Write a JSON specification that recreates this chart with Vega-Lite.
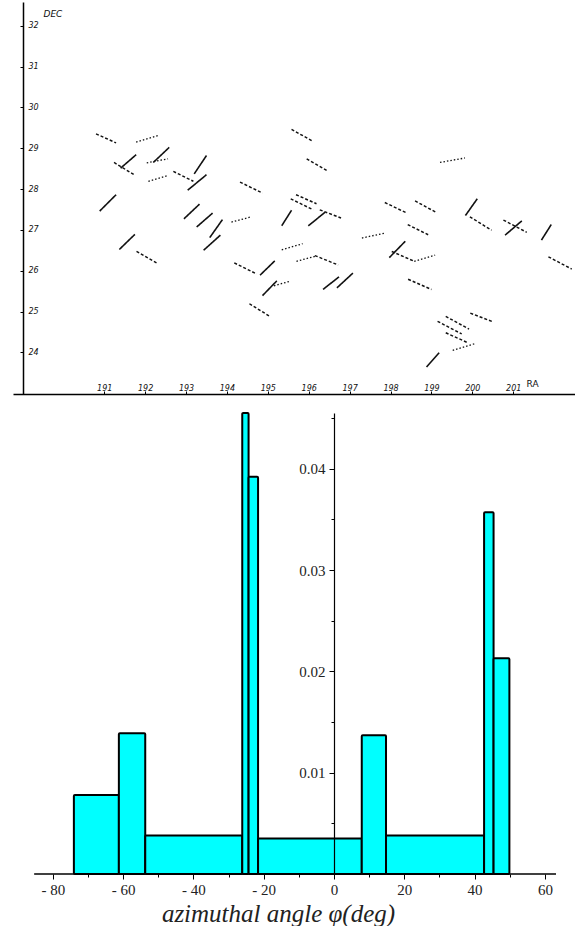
{
  "$schema": "https://vega.github.io/schema/vega-lite/v6.json",
  "padding": {"left": 13, "top": 2, "right": 0, "bottom": 0},
  "autosize": {"type": "pad"},
  "spacing": 17,
  "background": "white",
  "config": {"view": {"stroke": null}},
  "vconcat": [
    {
      "width": 562,
      "height": 392,
      "data": {"values": [
        {"type":"dashed","ra1":190.80,"dec1":29.35,"ra2":191.29,"dec2":29.13},
        {"type":"dotted","ra1":191.78,"dec1":29.15,"ra2":192.32,"dec2":29.31},
        {"type":"solid","ra1":191.40,"dec1":28.51,"ra2":191.78,"dec2":28.84},
        {"type":"dashed","ra1":191.24,"dec1":28.65,"ra2":191.73,"dec2":28.35},
        {"type":"solid","ra1":192.20,"dec1":28.65,"ra2":192.59,"dec2":29.02},
        {"type":"dotted","ra1":192.04,"dec1":28.64,"ra2":192.56,"dec2":28.74},
        {"type":"dotted","ra1":192.08,"dec1":28.19,"ra2":192.56,"dec2":28.33},
        {"type":"solid","ra1":193.20,"dec1":28.37,"ra2":193.50,"dec2":28.82},
        {"type":"dashed","ra1":192.69,"dec1":28.43,"ra2":193.18,"dec2":28.19},
        {"type":"solid","ra1":193.04,"dec1":27.97,"ra2":193.50,"dec2":28.35},
        {"type":"dashed","ra1":194.32,"dec1":28.17,"ra2":194.87,"dec2":27.90},
        {"type":"solid","ra1":190.89,"dec1":27.46,"ra2":191.29,"dec2":27.86},
        {"type":"solid","ra1":192.95,"dec1":27.27,"ra2":193.33,"dec2":27.63},
        {"type":"solid","ra1":193.26,"dec1":27.07,"ra2":193.65,"dec2":27.41},
        {"type":"solid","ra1":193.58,"dec1":26.81,"ra2":193.89,"dec2":27.25},
        {"type":"dotted","ra1":194.11,"dec1":27.19,"ra2":194.60,"dec2":27.32},
        {"type":"solid","ra1":191.37,"dec1":26.52,"ra2":191.75,"dec2":26.89},
        {"type":"solid","ra1":193.43,"dec1":26.50,"ra2":193.84,"dec2":26.87},
        {"type":"dashed","ra1":195.58,"dec1":29.46,"ra2":196.10,"dec2":29.17},
        {"type":"dashed","ra1":195.95,"dec1":28.74,"ra2":196.47,"dec2":28.44},
        {"type":"dashed","ra1":195.69,"dec1":27.86,"ra2":196.19,"dec2":27.64},
        {"type":"dashed","ra1":195.56,"dec1":27.76,"ra2":196.11,"dec2":27.49},
        {"type":"dashed","ra1":196.27,"dec1":27.49,"ra2":196.79,"dec2":27.29},
        {"type":"solid","ra1":195.34,"dec1":27.10,"ra2":195.58,"dec2":27.48},
        {"type":"solid","ra1":195.99,"dec1":27.10,"ra2":196.40,"dec2":27.43},
        {"type":"dotted","ra1":199.21,"dec1":28.65,"ra2":199.82,"dec2":28.76},
        {"type":"dashed","ra1":197.86,"dec1":27.67,"ra2":198.40,"dec2":27.41},
        {"type":"dashed","ra1":198.60,"dec1":27.71,"ra2":199.11,"dec2":27.43},
        {"type":"solid","ra1":199.83,"dec1":27.35,"ra2":200.12,"dec2":27.76},
        {"type":"dashed","ra1":199.94,"dec1":27.32,"ra2":200.47,"dec2":26.99},
        {"type":"dashed","ra1":200.76,"dec1":27.24,"ra2":201.33,"dec2":26.94},
        {"type":"solid","ra1":200.80,"dec1":26.87,"ra2":201.21,"dec2":27.22},
        {"type":"solid","ra1":201.69,"dec1":26.75,"ra2":201.93,"dec2":27.13},
        {"type":"dashed","ra1":201.86,"dec1":26.34,"ra2":202.43,"dec2":26.04},
        {"type":"dashed","ra1":198.42,"dec1":27.13,"ra2":198.92,"dec2":26.88},
        {"type":"dotted","ra1":197.30,"dec1":26.80,"ra2":197.86,"dec2":26.92},
        {"type":"dotted","ra1":195.34,"dec1":26.51,"ra2":195.85,"dec2":26.66},
        {"type":"solid","ra1":197.97,"dec1":26.32,"ra2":198.36,"dec2":26.72},
        {"type":"dashed","ra1":198.03,"dec1":26.47,"ra2":198.58,"dec2":26.23},
        {"type":"dotted","ra1":198.58,"dec1":26.23,"ra2":199.09,"dec2":26.38},
        {"type":"dotted","ra1":195.70,"dec1":26.23,"ra2":196.15,"dec2":26.35},
        {"type":"dashed","ra1":196.15,"dec1":26.37,"ra2":196.72,"dec2":26.14},
        {"type":"solid","ra1":196.35,"dec1":25.54,"ra2":196.74,"dec2":25.85},
        {"type":"solid","ra1":196.69,"dec1":25.58,"ra2":197.08,"dec2":25.94},
        {"type":"dashed","ra1":198.43,"dec1":25.79,"ra2":199.00,"dec2":25.54},
        {"type":"dashed","ra1":199.35,"dec1":24.88,"ra2":199.92,"dec2":24.57},
        {"type":"dashed","ra1":199.95,"dec1":24.96,"ra2":200.50,"dec2":24.75},
        {"type":"dashed","ra1":199.15,"dec1":24.76,"ra2":199.74,"dec2":24.45},
        {"type":"dashed","ra1":199.35,"dec1":24.48,"ra2":199.90,"dec2":24.23},
        {"type":"dotted","ra1":199.52,"dec1":24.05,"ra2":200.05,"dec2":24.21},
        {"type":"solid","ra1":198.88,"dec1":23.64,"ra2":199.19,"dec2":23.99},
        {"type":"dashed","ra1":191.79,"dec1":26.47,"ra2":192.28,"dec2":26.19},
        {"type":"dashed","ra1":194.18,"dec1":26.19,"ra2":194.73,"dec2":25.92},
        {"type":"solid","ra1":194.81,"dec1":25.89,"ra2":195.17,"dec2":26.24},
        {"type":"solid","ra1":194.87,"dec1":25.39,"ra2":195.22,"dec2":25.75},
        {"type":"dotted","ra1":195.15,"dec1":25.63,"ra2":195.54,"dec2":25.74},
        {"type":"dashed","ra1":194.55,"dec1":25.19,"ra2":195.05,"dec2":24.88}
      ]},
      "mark": {"type": "rule", "color": "#111111"},
      "encoding": {
        "x": {"field": "ra1", "type": "quantitative",
          "scale": {"domain": [188.77, 202.51], "nice": false, "zero": false},
          "axis": {"orient": "top", "offset": -392, "values": [191,192,193,194,195,196,197,198,199,200,201],
            "grid": false, "domainColor": "black", "domainWidth": 1.5, "tickColor": "black", "tickSize": 3, "tickWidth": 1,
            "labelFont": "DejaVu Sans", "labelFontStyle": "italic", "labelFontSize": 8, "labelColor": "#111111", "labelPadding": -1,
            "title": "RA", "titleX": 513, "titleY": -6, "titleAlign": "left", "titleBaseline": "bottom",
            "titleFont": "DejaVu Sans", "titleFontSize": 9, "titleFontWeight": "normal", "titleColor": "#111111"}},
        "x2": {"field": "ra2"},
        "y": {"field": "dec1", "type": "quantitative",
          "scale": {"domain": [22.98, 32.58], "nice": false, "zero": false},
          "axis": {"orient": "left", "offset": -10, "values": [24,25,26,27,28,29,30,31,32],
            "grid": false, "domainColor": "black", "domainWidth": 1.5, "tickColor": "black", "tickSize": 3, "tickWidth": 1,
            "labelFont": "DejaVu Sans", "labelFontStyle": "italic", "labelFontSize": 8, "labelColor": "#111111",
            "labelAlign": "left", "labelPadding": -8,
            "title": "DEC", "titleAngle": 0, "titleX": 20, "titleY": 11, "titleAlign": "left", "titleBaseline": "middle",
            "titleFont": "DejaVu Sans", "titleFontStyle": "italic", "titleFontSize": 9, "titleFontWeight": "normal", "titleColor": "#111111"}},
        "y2": {"field": "dec2"},
        "strokeDash": {"field": "type", "type": "nominal",
          "scale": {"domain": ["solid", "dashed", "dotted"], "range": [[1, 0], [3, 2], [1.5, 2]]}, "legend": null},
        "strokeWidth": {"field": "type", "type": "nominal",
          "scale": {"domain": ["solid", "dashed", "dotted"], "range": [1.6, 1.3, 1.0]}, "legend": null}
      }
    },
    {
      "width": 543,
      "height": 461,
      "layer": [
        {
          "data": {"values": [
            {"lo": -74.0, "hi": -61.2, "p": 0.0078},
            {"lo": -61.2, "hi": -53.7, "p": 0.0139},
            {"lo": -53.7, "hi": -26.1, "p": 0.0038},
            {"lo": -26.1, "hi": -24.3, "p": 0.0455},
            {"lo": -24.3, "hi": -21.6, "p": 0.0392},
            {"lo": -21.6, "hi": 7.9, "p": 0.0035},
            {"lo": 7.9, "hi": 14.8, "p": 0.0137},
            {"lo": 14.8, "hi": 42.7, "p": 0.0038},
            {"lo": 42.7, "hi": 45.4, "p": 0.0357},
            {"lo": 45.4, "hi": 49.9, "p": 0.0213}
          ]},
          "mark": {"type": "bar", "fill": "#00FFFF", "stroke": "black", "strokeWidth": 2, "cornerRadius": 1},
          "encoding": {
            "x": {"field": "lo", "type": "quantitative",
              "scale": {"domain": [-91.32, 63.16], "nice": false, "zero": false},
              "axis": {"orient": "bottom", "values": [-80,-60,-40,-20,0,20,40,60], "domain": false, "grid": false,
                "tickColor": "black", "tickSize": 5, "tickWidth": 1,
                "labelExpr": "datum.value < 0 ? '- ' + abs(datum.value) : '' + datum.value",
                "labelFont": "Liberation Serif", "labelFontSize": 15, "labelColor": "#222222", "labelPadding": 3,
                "title": "azimuthal angle φ(deg)", "titleFont": "Liberation Serif", "titleFontStyle": "italic",
                "titleFontWeight": "normal", "titleFontSize": 25, "titleColor": "#222222", "titleX": 265, "titlePadding": 4}},
            "x2": {"field": "hi"},
            "y": {"field": "p", "type": "quantitative",
              "scale": {"domain": [0, 0.0455], "nice": false},
              "axis": {"orient": "left", "offset": -321, "values": [0.01, 0.02, 0.03, 0.04], "grid": false, "zindex": 1,
                "domainColor": "black", "domainWidth": 1.2, "tickColor": "black", "tickSize": 5, "tickWidth": 1,
                "labelFont": "Liberation Serif", "labelFontSize": 15, "labelColor": "#222222", "labelPadding": 4,
                "title": null}},
            "y2": {"datum": 0}
          }
        },
        {
          "data": {"values": [{"axis": "x"}]},
          "mark": {"type": "rule", "color": "black", "strokeWidth": 1.5},
          "encoding": {
            "x": {"datum": -85.3, "type": "quantitative",
              "axis": {"orient": "bottom", "values": [-70,-50,-30,-10,10,30,50], "domain": false, "grid": false,
                "tickColor": "black", "tickSize": 3, "tickWidth": 1, "labels": false, "title": null}},
            "x2": {"datum": 63.16},
            "y": {"datum": 0, "type": "quantitative",
              "axis": {"orient": "left", "offset": -321, "values": [0.005, 0.015, 0.025, 0.035, 0.045], "domain": false, "grid": false, "zindex": 1,
                "tickColor": "black", "tickSize": 3, "tickWidth": 1, "labels": false, "title": null}}
          }
        }
      ],
      "resolve": {"axis": {"x": "independent", "y": "independent"}}
    }
  ]
}
